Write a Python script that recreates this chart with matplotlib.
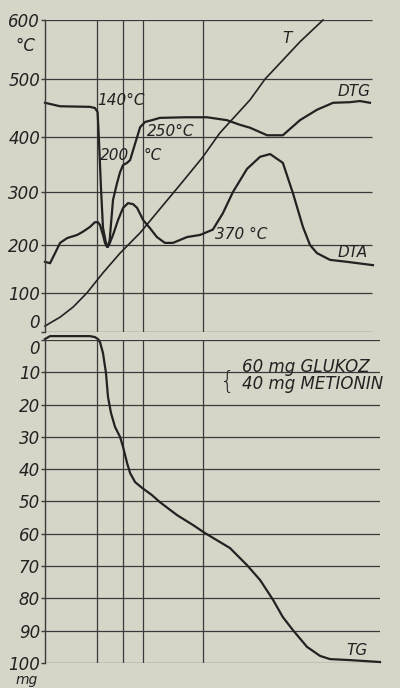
import matplotlib.pyplot as plt
import numpy as np

# derivatogram: 60 mg glukoz + 40 mg metionin

# time axis (arbitrary units, 0..100) and curves
t_time = [0, 1.5, 4.5, 8.4, 12.5, 17.3, 22.4, 28.4, 34.3, 40.3, 46.9, 52.2, 61.2, 65.7, 71.0, 76.1, 83.0]
t_val = [15, 23, 38, 64, 100, 142, 183, 223, 268, 313, 362, 407, 464, 500, 532, 563, 600]

dtg_time = [0, 4.5, 13.4, 14.9, 15.7, 16.1, 16.7, 17.3, 18.2, 18.8,
            19.3, 20.3, 21.5, 22.4, 23.3, 24.5, 25.4, 26.3, 27.5, 28.4,
            29.9, 31.9, 34.3, 41.8, 48.4, 54.3, 58.2, 61.2, 66.3, 71.0,
            76.1, 81.2, 86.0, 91.0, 94.0, 97.0]
dtg_val = [459, 453, 452, 450, 443, 395, 309, 233, 204, 196,
           209, 285, 316, 336, 349, 353, 358, 376, 400, 417,
           426, 429, 433, 434, 434, 429, 421, 416, 403, 403,
           429, 447, 459, 460, 462, 459]

dta_time = [0, 1.5, 3.0, 4.5, 6.6, 9.6, 11.3, 13.4, 14.9, 15.8,
            16.4, 17.3, 17.9, 18.5, 19.1, 20.3, 21.8, 23.3, 24.8, 26.3,
            27.5, 29.3, 31.3, 33.4, 35.8, 38.2, 42.4, 46.3, 50.1, 53.1,
            56.1, 60.3, 64.2, 67.2, 71.0, 74.0, 77.0, 79.1, 81.2, 85.1,
            90.1, 97.9]
dta_val = [165, 162, 183, 204, 213, 219, 225, 234, 243, 243,
           238, 219, 204, 196, 200, 219, 247, 270, 279, 277,
           270, 247, 232, 215, 204, 204, 215, 219, 229, 260,
           300, 342, 364, 369, 353, 298, 234, 200, 183, 169,
           165, 158]

tg_time = [0, 1.5, 13.4, 14.9, 15.8, 16.4, 17.3, 18.2, 18.8, 19.7,
           20.9, 22.4, 23.3, 24.5, 25.4, 26.9, 29.0, 31.9, 34.3, 39.4,
           44.2, 47.8, 55.2, 60.3, 64.2, 68.1, 71.0, 74.0, 78.2, 82.1,
           85.1, 91.0, 100]
tg_val = [-0.3, -1.2, -1.2, -0.9, -0.3, 0.6, 4.0, 10.2, 17.6, 22.6,
          26.9, 30.0, 33.1, 38.1, 41.2, 44.0, 45.8, 48.0, 50.2, 54.2,
          57.3, 59.8, 64.4, 69.7, 74.3, 80.5, 85.8, 89.8, 95.0, 97.8,
          98.8, 99.1, 99.7]

# times of the marked peaks (140, 200, 250, 370 C)
events = [15.5, 23.3, 29.3, 47.2]

temp_ticks = [0, 100, 200, 300, 400, 500, 600]
mass_ticks = [0, 10, 20, 30, 40, 50, 60, 70, 80, 90, 100]

# thermocouple scale of the paper is not linear
scale_t = [-600, 0, 100, 200, 300, 400, 500, 600, 1200]
scale_p = [-234, 0, 39, 87, 140, 195, 253, 312, 666]

def fwd(v):
    return np.interp(v, scale_t, scale_p)

def inv(p):
    return np.interp(p, scale_p, scale_t)

bg = '#d6d5c7'
ink = '#222222'
grid = '#3a3a3a'
font = dict(family='DejaVu Sans', style='italic', color=ink)

fig = plt.figure(figsize=(4, 6.88), dpi=100, facecolor=bg)
ax1 = fig.add_axes([0.1125, 0.51744, 0.8375, 0.45349])
ax2 = fig.add_axes([0.1125, 0.03634, 0.8375, 0.46948])

for ax in (ax1, ax2):
    ax.set_facecolor(bg)
    for s in ['top', 'right', 'bottom']:
        ax.spines[s].set_visible(False)
    ax.spines['left'].set_color(grid)
    ax.spines['left'].set_linewidth(1.0)
    ax.set_xlim(0, 100)
    ax.set_xticks([])
    ax.tick_params(axis='y', direction='out', length=3, width=1, color=grid, pad=0.5)
    for e in events:
        ax.axvline(e, color=grid, lw=0.9)

# upper part: T, DTG, DTA
ax1.set_yscale('function', functions=(fwd, inv))
ax1.set_ylim(0, 600)
ax1.set_yticks(temp_ticks)
ax1.set_yticklabels([str(t) for t in temp_ticks], fontsize=12, **font)
ax1.get_yticklabels()[0].set_verticalalignment('bottom')
ax1.hlines(temp_ticks, 0, 97.6, color=grid, lw=0.9)
ax1.plot(t_time, t_val, color=ink, lw=1.2, clip_on=False)
ax1.plot(dtg_time, dtg_val, color=ink, lw=1.6, clip_on=False)
ax1.plot(dta_time, dta_val, color=ink, lw=1.6, clip_on=False)
ax1.text(-0.057, 556, '°C', transform=ax1.get_yaxis_transform(),
         ha='center', va='center', fontsize=12, **font)

ax1.text(15.7, 463, '140°C', fontsize=11, va='center', **font)
ax1.text(16.4, 367, '200', fontsize=11, va='center', **font)
ax1.text(29.3, 367, '°C', fontsize=11, va='center', **font)
ax1.text(30.4, 409, '250°C', fontsize=11, va='center', **font)
ax1.text(50.7, 219, '370 °C', fontsize=11, va='center', **font)
ax1.text(72.2, 569, 'T', fontsize=11, ha='center', va='center', **font)
ax1.text(87.2, 478, 'DTG', fontsize=11, va='center', **font)
ax1.text(87.2, 185, 'DTA', fontsize=11, va='center', **font)

# lower part: TG
ax2.set_ylim(100, 0)
ax2.set_yticks(mass_ticks)
ax2.set_yticklabels([str(m) for m in mass_ticks], fontsize=12, **font)
ax2.get_yticklabels()[0].set_verticalalignment('top')
ax2.hlines(mass_ticks, 0, 100, color=grid, lw=0.9)
ax2.plot(tg_time, tg_val, color=ink, lw=1.6, clip_on=False)
ax2.text(-0.055, -0.053, 'mg', transform=ax2.transAxes,
         ha='center', va='center', fontsize=10, **font)
ax2.text(90.1, 96, 'TG', fontsize=11, va='center', **font)

ax2.text(54.6, 13.0, '{', fontsize=17, va='center', ha='center',
         family='DejaVu Sans', color=ink, fontweight='light')
ax2.text(58.8, 11.1, '60 mg GLUKOZ\n40 mg METIONIN', fontsize=12,
         va='center', linespacing=0.95, **font)

fig.savefig('out.png', dpi=100, facecolor=bg)
